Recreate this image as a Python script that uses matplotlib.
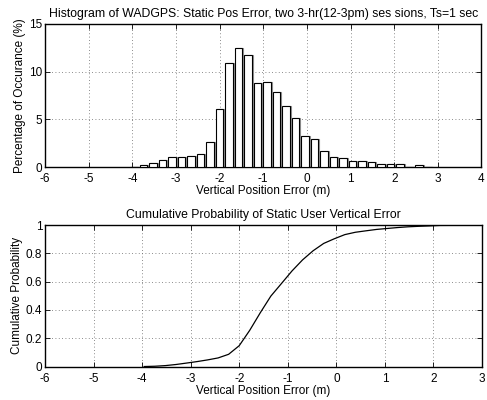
import matplotlib
matplotlib.use("Agg")
import matplotlib.pyplot as plt
import numpy as np

plt.rcParams['font.family'] = ['Liberation Sans', 'DejaVu Sans']

# ---- data ----
bin_centers = [-3.958, -3.740, -3.523, -3.305, -3.088, -2.870, -2.653, -2.435, -2.218,
               -2.000, -1.783, -1.565, -1.348, -1.130, -0.913, -0.695, -0.478, -0.260,
               -0.043, 0.175, 0.392, 0.610, 0.827, 1.045, 1.262, 1.480, 1.697, 1.915,
               2.132, 2.350, 2.567, 2.785]
pct = [0.05, 0.20, 0.45, 0.77, 1.01, 1.05, 1.19, 1.40, 2.57,
       6.08, 10.88, 12.45, 11.72, 8.85, 8.88, 7.82, 6.44, 5.18,
       3.27, 2.95, 1.66, 1.02, 0.98, 0.67, 0.66, 0.53, 0.35, 0.28,
       0.35, 0.03, 0.20, 0.00]
cdf = [0.0005, 0.0025, 0.007, 0.0147, 0.0248, 0.0353, 0.0472, 0.0612, 0.0869,
       0.1477, 0.2565, 0.381, 0.4982, 0.5867, 0.6755, 0.7537, 0.8181, 0.8699,
       0.9026, 0.9321, 0.9487, 0.9589, 0.9687, 0.9754, 0.982, 0.9873, 0.9908, 0.9936,
       0.9971, 0.9974, 0.9994, 1.0]

title1 = "Histogram of WADGPS: Static Pos Error, two 3-hr(12-3pm) ses sions, Ts=1 sec"
title2 = "Cumulative Probability of Static User Vertical Error"
xlabel = "Vertical Position Error (m)"
ylabel1 = "Percentage of Occurance (%)"
ylabel2 = "Cumulative Probability"
xticks1 = [-6, -5, -4, -3, -2, -1, 0, 1, 2, 3, 4]
yticks1 = [0, 5, 10, 15]
xticks2 = [-6, -5, -4, -3, -2, -1, 0, 1, 2, 3]
yticks2 = [0, 0.2, 0.4, 0.6, 0.8, 1]
yticklabels2 = ["0", "0.2", "0.4", "0.6", "0.8", "1"]

fs = 8.5
fig = plt.figure(figsize=(4.87, 4.00), dpi=100)
ax1 = fig.add_axes([0.0924, 0.5825, 0.8963, 0.3575])
ax2 = fig.add_axes([0.0924, 0.0835, 0.8973, 0.354])

def style(ax):
    ax.tick_params(direction='in', length=3.5, width=0.6, top=True, right=True,
                   labelsize=fs, pad=2)
    ax.tick_params(axis='x', pad=4.5)
    for s in ax.spines.values():
        s.set_linewidth(1.0)
        s.set_color('black')
    ax.grid(True, color='#666666', linestyle=(0, (1, 3)), linewidth=0.6)
    ax.set_axisbelow(True)

bw = bin_centers[1] - bin_centers[0]
w = 0.8 * bw
bc = np.array(bin_centers)
ax1.bar(bc + 0.02, pct, width=w, color='#909090', edgecolor='#909090', linewidth=0.8, zorder=2)
ax1.bar(bc, pct, width=w, color='white', edgecolor='black', linewidth=0.8, zorder=3)
ax1.set_xlim(-6, 4)
ax1.set_ylim(0, 15)
ax1.set_xticks(xticks1)
ax1.set_yticks(yticks1)
ax1.set_xticklabels([str(t) for t in xticks1])
ax1.set_yticklabels([str(t) for t in yticks1])
ax1.set_title(title1, fontsize=8.8, pad=5)
ax1.set_xlabel(xlabel, fontsize=fs, labelpad=0)
ax1.set_ylabel(ylabel1, fontsize=fs, labelpad=2)
style(ax1)

ax2.plot(bin_centers, cdf, color='black', linewidth=0.9, zorder=3)
ax2.set_xlim(-6, 3)
ax2.set_ylim(0, 1)
ax2.set_xticks(xticks2)
ax2.set_xticklabels([str(t) for t in xticks2])
ax2.set_yticks(yticks2)
ax2.set_yticklabels(yticklabels2)
ax2.set_title(title2, fontsize=8.8, pad=5)
ax2.set_xlabel(xlabel, fontsize=fs, labelpad=0)
ax2.set_ylabel(ylabel2, fontsize=fs, labelpad=2)
style(ax2)

fig.savefig("out.png", dpi=100)
